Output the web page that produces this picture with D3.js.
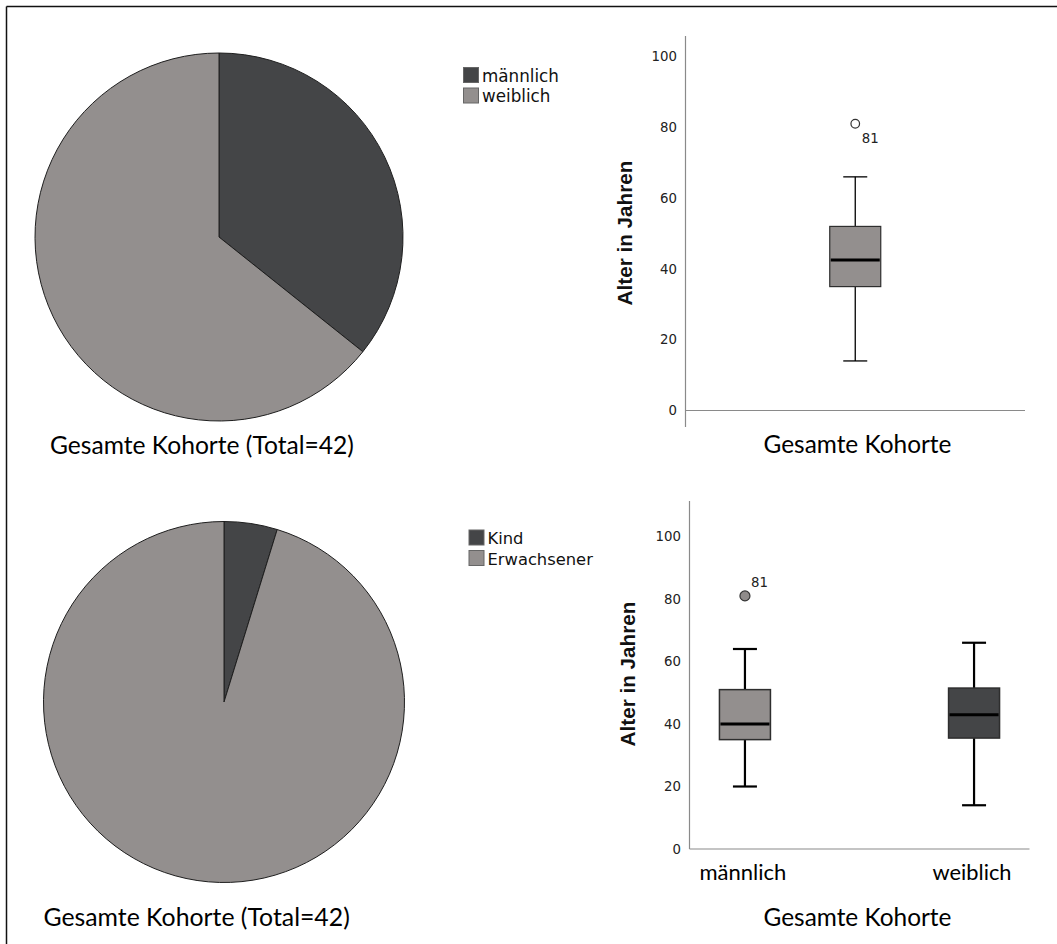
<!DOCTYPE html>
<html>
<head>
<meta charset="utf-8">
<script src="https://cdn.jsdelivr.net/npm/d3@7"></script>
<style>
  body { margin: 0; background: #fff; }
  svg { display: block; }
</style>
</head>
<body>
<svg id="chart" width="1057" height="944"></svg>
<script>
// ---- Pie data: counts per category ----
const sexCategories = ["männlich", "weiblich"];
const sexCounts = [15, 27];
const ageGroupCategories = ["Kind", "Erwachsener"];
const ageGroupCounts = [2, 40];

// ---- Box plot data: age in years ----
const cohortGroups = ["Gesamte Kohorte"];
const cohortLow = [14];
const cohortQ1 = [35];
const cohortMedian = [42.5];
const cohortQ3 = [52];
const cohortHigh = [66];
const cohortOutliers = [[81]];
const cohortOutlierLabels = [["81"]];

const sexGroups = ["männlich", "weiblich"];
const sexLow = [20, 14];
const sexQ1 = [35, 35.5];
const sexMedian = [40, 43];
const sexQ3 = [51, 51.5];
const sexHigh = [64, 66];
const sexOutliers = [[81], []];
const sexOutlierLabels = [["81"], []];

const ageTicks = [0, 20, 40, 60, 80, 100];

const DARK = "#444547";
const LIGHT = "#938f8e";
const CAPTION_FONT = "Lato, 'Open Sans', sans-serif";
const SPSS_FONT = "'DejaVu Sans', sans-serif";

const svg = d3.select("#chart");

// scale a text's font size so that it spans the given width
function fitWidth(sel, width) {
  const fs = parseFloat(sel.attr("font-size"));
  const w = sel.node().getComputedTextLength();
  if (w > 0) sel.attr("font-size", fs * width / w);
  return sel;
}

// frame: top and left rules
svg.append("line").attr("x1", 6.5).attr("x2", 1057).attr("y1", 6.5).attr("y2", 6.5)
  .attr("stroke", "#111").attr("stroke-width", 1.5);
svg.append("line").attr("x1", 6.5).attr("x2", 6.5).attr("y1", 6.5).attr("y2", 944)
  .attr("stroke", "#111").attr("stroke-width", 1.5);

function drawPie(o) {
  const g = svg.append("g").attr("transform", `translate(${o.cx},${o.cy})`);
  const color = d3.scaleOrdinal().domain(o.categories).range([DARK, LIGHT]);
  const pie = d3.pie().sort(null).value(d => d.value);
  const arc = d3.arc().innerRadius(0).outerRadius(o.r);
  const data = o.categories.map((c, i) => ({ cat: c, value: o.counts[i] }));
  g.selectAll("path").data(pie(data)).join("path")
    .attr("d", arc)
    .attr("fill", d => color(d.data.cat))
    .attr("stroke", "#1e1e1e")
    .attr("stroke-width", 1);

  // legend
  const lg = svg.append("g").attr("transform", `translate(${o.legendX},${o.legendY})`);
  o.categories.forEach((c, i) => {
    lg.append("rect").attr("x", 0.5).attr("y", i * 20.5 + 0.5).attr("width", 15).attr("height", 15)
      .attr("fill", color(c)).attr("stroke", "#666").attr("stroke-width", 1);
    lg.append("text").attr("x", 19).attr("y", i * 20.5 + 14.5)
      .attr("font-family", SPSS_FONT).attr("font-size", 16).attr("fill", "#111")
      .text(c);
  });
  // size legend type from its longest entry
  const longest = lg.selectAll("text").nodes()
    .reduce((a, n) => n.getComputedTextLength() > a.getComputedTextLength() ? n : a);
  const k = o.legendTextW / longest.getComputedTextLength();
  lg.selectAll("text").attr("font-size", 16 * k);

  const total = d3.sum(o.counts);
  const cap = svg.append("text")
    .attr("x", o.captionX).attr("y", o.captionY)
    .attr("font-family", CAPTION_FONT).attr("font-size", 24).attr("fill", "#000")
    .text(`Gesamte Kohorte (Total=${total})`);
  fitWidth(cap, o.captionW);
}

function drawBox(o) {
  const y = d3.scaleLinear().domain([0, 100]).range([o.y0, o.y100]);
  const x = d3.scalePoint().domain(o.groups).range([o.axisX, o.xRight]).padding(o.xPad);
  const g = svg.append("g");

  // axes lines
  g.append("line").attr("x1", o.axisX).attr("x2", o.axisX)
    .attr("y1", y(o.axisTop)).attr("y2", o.axisBottom)
    .attr("stroke", "#8a8a8a").attr("stroke-width", 1.2);
  g.append("line").attr("x1", o.axisX).attr("x2", o.xRight)
    .attr("y1", y(0)).attr("y2", y(0))
    .attr("stroke", "#8a8a8a").attr("stroke-width", 1.2);

  // tick labels
  const ax = g.append("g").attr("transform", `translate(${o.axisX},0)`)
    .call(d3.axisLeft(y).tickValues(ageTicks).tickSize(0).tickPadding(8.5).tickFormat(d3.format("d")));
  ax.select(".domain").remove();
  ax.selectAll("text").attr("font-family", SPSS_FONT).attr("font-size", 13.3).attr("fill", "#222");

  // y title
  const yt = g.append("text")
    .attr("transform", `translate(${o.titleX},${o.titleY}) rotate(-90)`)
    .attr("text-anchor", "middle").attr("dominant-baseline", "central")
    .attr("font-family", "'Liberation Sans', Arial, sans-serif").attr("font-weight", "bold")
    .attr("font-size", 20).attr("fill", "#111")
    .text("Alter in Jahren");
  fitWidth(yt, 145);

  const bw = 51, cw = 24;
  o.groups.forEach((grp, i) => {
    const cx = x(grp);
    const bg = g.append("g");
    // whiskers
    bg.append("line").attr("x1", cx).attr("x2", cx).attr("y1", y(o.high[i])).attr("y2", y(o.q3[i]))
      .attr("stroke", "#000").attr("stroke-width", o.whiskerW);
    bg.append("line").attr("x1", cx).attr("x2", cx).attr("y1", y(o.q1[i])).attr("y2", y(o.low[i]))
      .attr("stroke", "#000").attr("stroke-width", o.whiskerW);
    [o.high[i], o.low[i]].forEach(v => {
      bg.append("line").attr("x1", cx - cw / 2).attr("x2", cx + cw / 2).attr("y1", y(v)).attr("y2", y(v))
        .attr("stroke", "#000").attr("stroke-width", o.whiskerW);
    });
    // box
    bg.append("rect").attr("x", cx - bw / 2).attr("width", bw)
      .attr("y", y(o.q3[i])).attr("height", y(o.q1[i]) - y(o.q3[i]))
      .attr("fill", o.fills[i]).attr("stroke", "#2e2e2e").attr("stroke-width", o.boxW);
    // median
    bg.append("line").attr("x1", cx - bw / 2 + 1).attr("x2", cx + bw / 2 - 1)
      .attr("y1", y(o.median[i])).attr("y2", y(o.median[i]))
      .attr("stroke", "#000").attr("stroke-width", 3);
    // outliers
    o.outliers[i].forEach((v, j) => {
      bg.append("circle").attr("cx", cx).attr("cy", y(v)).attr("r", o.outR)
        .attr("fill", o.outFill).attr("stroke", "#333").attr("stroke-width", 1.2);
      bg.append("text").attr("x", cx + o.outLabelDx).attr("y", y(v) + o.outLabelDy)
        .attr("font-family", SPSS_FONT).attr("font-size", 13.3).attr("fill", "#222")
        .text(o.outLabels[i][j]);
    });
  });

  // category labels
  if (o.showGroupLabels) {
    o.groups.forEach((grp, i) => {
      const t = g.append("text").attr("x", x(grp) - 2).attr("y", o.groupLabelY)
        .attr("text-anchor", "middle").attr("font-family", CAPTION_FONT)
        .attr("font-size", 22).attr("fill", "#000").text(grp);
      fitWidth(t, o.groupLabelW[i]);
    });
  }
  const cap = g.append("text").attr("x", o.captionX).attr("y", o.captionY)
    .attr("text-anchor", "middle").attr("font-family", CAPTION_FONT)
    .attr("font-size", 24).attr("fill", "#000").text("Gesamte Kohorte");
  fitWidth(cap, 188);
}

// top row
drawPie({ cx: 219, cy: 237, r: 184, categories: sexCategories, counts: sexCounts,
  legendX: 463, legendY: 67, legendTextW: 77,
  captionX: 50, captionY: 454, captionW: 304 });
drawBox({ groups: cohortGroups, low: cohortLow, q1: cohortQ1, median: cohortMedian, q3: cohortQ3,
  high: cohortHigh, outliers: cohortOutliers, outLabels: cohortOutlierLabels,
  fills: [LIGHT], y0: 410.5, y100: 56.5, axisTop: 105.8, axisBottom: 427,
  axisX: 685.5, xRight: 1025, xPad: 0.5, titleX: 624, titleY: 233,
  whiskerW: 1.3, boxW: 1.2, outR: 4.3, outFill: "#fff", outLabelDx: 6.5, outLabelDy: 19,
  showGroupLabels: false, captionX: 857.5, captionY: 452.5 });

// bottom row
drawPie({ cx: 224, cy: 702, r: 180.5, categories: ageGroupCategories, counts: ageGroupCounts,
  legendX: 468.5, legendY: 529.5, legendTextW: 105.5,
  captionX: 43.5, captionY: 926, captionW: 306.5 });
drawBox({ groups: sexGroups, low: sexLow, q1: sexQ1, median: sexMedian, q3: sexQ3,
  high: sexHigh, outliers: sexOutliers, outLabels: sexOutlierLabels,
  fills: [LIGHT, DARK], y0: 849, y100: 536.5, axisTop: 111.4, axisBottom: 849,
  axisX: 689.5, xRight: 1029.5, xPad: 0.242, titleX: 627, titleY: 674,
  whiskerW: 2.2, boxW: 1.5, outR: 5, outFill: "#8f8b8a", outLabelDx: 6, outLabelDy: -9,
  showGroupLabels: true, groupLabelY: 880, groupLabelW: [87, 79],
  captionX: 857.5, captionY: 926 });
</script>
</body>
</html>
